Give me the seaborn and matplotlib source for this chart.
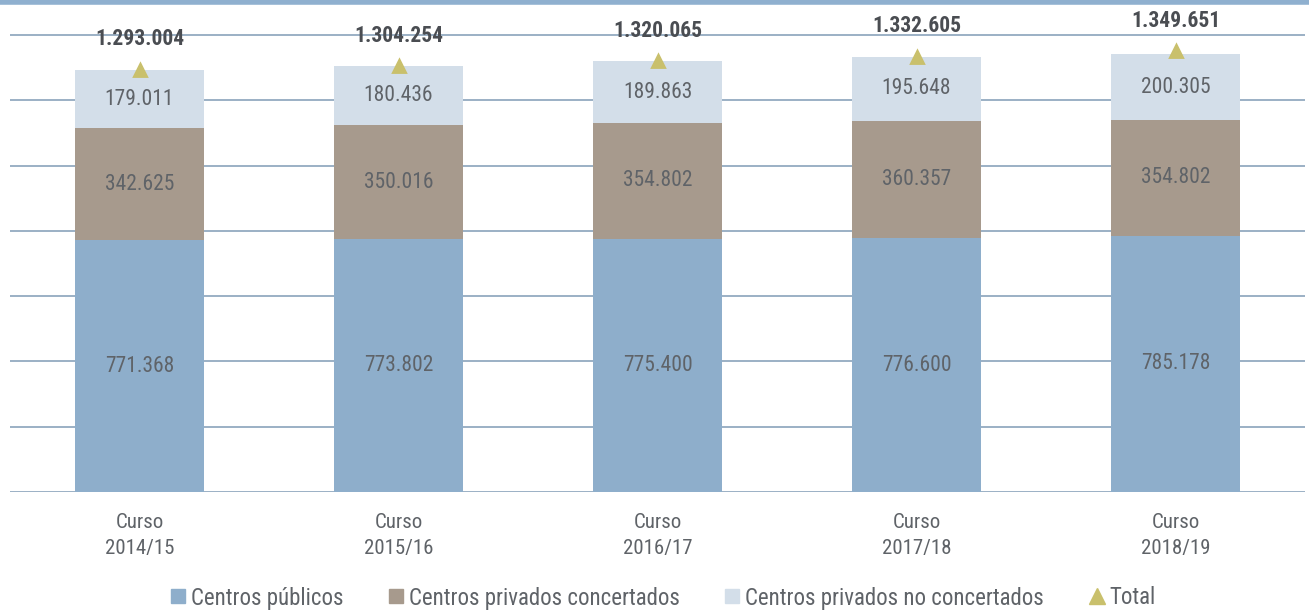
import numpy as np
import pandas as pd
import matplotlib.pyplot as plt
import seaborn as sns
from matplotlib.lines import Line2D

# data
cursos = ["Curso\n2014/15", "Curso\n2015/16", "Curso\n2016/17", "Curso\n2017/18", "Curso\n2018/19"]
publicos = [771368, 773802, 775400, 776600, 785178]
concertados = [342625, 350016, 354802, 360357, 354802]
no_concertados = [179011, 180436, 189863, 195648, 200305]
totales = [1293004, 1304254, 1320065, 1332605, 1349651]

col_pub = "#8eaecb"
col_con = "#a79a8d"
col_noc = "#d3dee9"
col_tot = "#c9c06c"
col_grid = "#93aac0"
col_txt = "#5f6368"


def fmt(v):
    return f"{v:,}".replace(",", ".")


def main():
    sns.set_style("white")
    plt.rcParams["font.family"] = ["Roboto Condensed", "Liberation Sans Narrow", "Roboto", "DejaVu Sans"]

    df = pd.DataFrame({
        "curso": cursos,
        "pub": publicos,
        "con": concertados,
        "noc": no_concertados,
        "tot": totales,
    })
    df["pub_con"] = df["pub"] + df["con"]
    df["all"] = df["pub_con"] + df["noc"]

    fig = plt.figure(figsize=(13.09, 6.10), dpi=100)
    ax = fig.add_axes([10 / 1309, 118 / 610, 1295 / 1309, 487 / 610])

    # stacked bars: draw cumulative heights from tallest to shortest
    bar_kw = dict(width=0.5, saturation=1, ax=ax, zorder=2, linewidth=0)
    sns.barplot(data=df, x="curso", y="all", color=col_noc, **bar_kw)
    sns.barplot(data=df, x="curso", y="pub_con", color=col_con, **bar_kw)
    sns.barplot(data=df, x="curso", y="pub", color=col_pub, **bar_kw)

    sns.pointplot(data=df, x="curso", y="tot", color=col_tot, markers="^", linestyles="none",
                  errorbar=None, markersize=8, ax=ax, zorder=4)

    # value labels inside segments
    for i in range(len(cursos)):
        ax.text(i, publicos[i] / 2, fmt(publicos[i]), ha="center", va="center",
                fontsize=15.5, color=col_txt, zorder=5)
        ax.text(i, publicos[i] + concertados[i] / 2, fmt(concertados[i]), ha="center", va="center",
                fontsize=15.5, color=col_txt, zorder=5)
        ax.text(i, publicos[i] + concertados[i] + no_concertados[i] / 2, fmt(no_concertados[i]),
                ha="center", va="center", fontsize=15.5, color=col_txt, zorder=5)
        ax.annotate(fmt(totales[i]), (i, totales[i]), xytext=(0, 22), textcoords="offset points",
                    ha="center", va="center", fontsize=15.5, fontweight="bold", color="#4a4d52", zorder=5)

    ax.set_xlim(-0.5, 4.5)
    ax.set_ylim(0, 1400000 * 487 / 457)
    ax.set_yticks(np.arange(0, 1400001, 200000))
    ax.set_yticklabels([])
    ax.tick_params(axis="y", length=0)
    ax.tick_params(axis="x", length=0, labelsize=15, labelcolor=col_txt, pad=15)
    for lab in ax.get_xticklabels():
        lab.set_linespacing(1.5)
    ax.grid(axis="y", color=col_grid, linewidth=1.3, zorder=0)
    ax.set_axisbelow(True)
    ax.set_xlabel("")
    ax.set_ylabel("")
    sns.despine(ax=ax, left=True, bottom=True)

    # top band
    fig.add_artist(Line2D([0, 1], [1 - 2 / 610, 1 - 2 / 610], transform=fig.transFigure,
                          color="#8fb0cf", linewidth=4))

    handles = [
        Line2D([], [], marker="s", linestyle="none", color=col_pub, markersize=10),
        Line2D([], [], marker="s", linestyle="none", color=col_con, markersize=10),
        Line2D([], [], marker="s", linestyle="none", color=col_noc, markersize=10),
        Line2D([], [], marker="^", linestyle="none", color=col_tot, markersize=11),
    ]
    labels = ["Centros públicos", "Centros privados concertados",
              "Centros privados no concertados", "Total"]
    fig.legend(handles, labels, loc="center", bbox_to_anchor=(0.506, 1 - 598 / 610), ncol=4,
               frameon=False, fontsize=16.5, labelcolor=col_txt, handletextpad=0.15,
               columnspacing=1.9, handlelength=0.8)

    fig.savefig("out.png", dpi=100)


if __name__ == "__main__":
    main()
